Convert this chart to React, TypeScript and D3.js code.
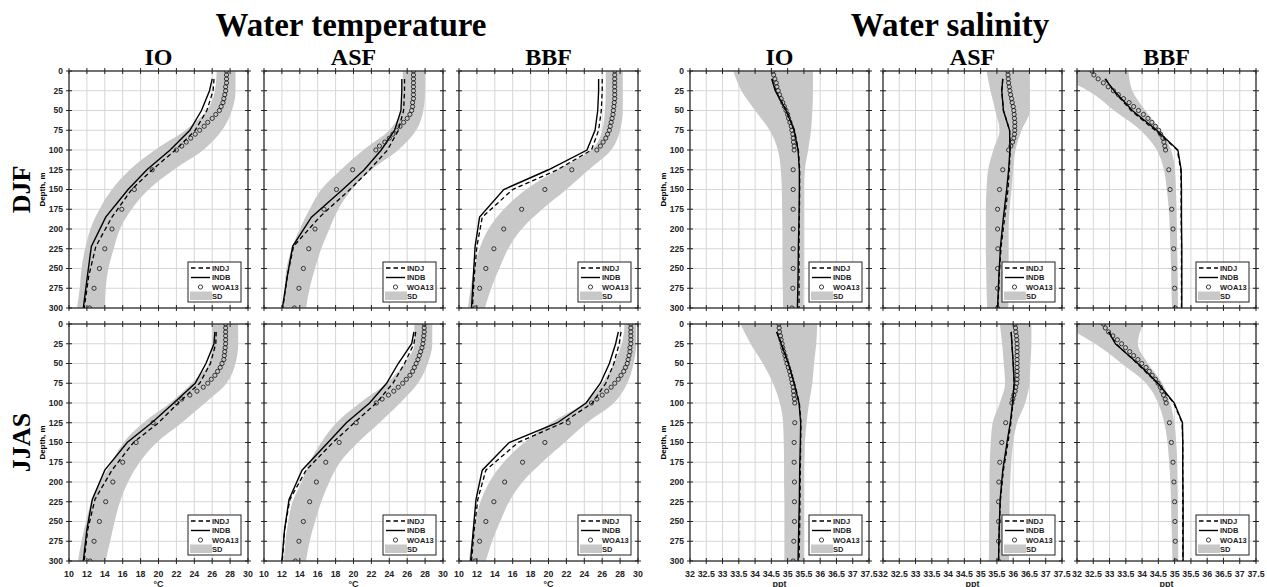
import * as d3 from 'd3';
import React from 'react';

// depth levels
const woaDepths = [0, 5, 10, 15, 20, 25, 30, 35, 40, 45, 50, 55, 60, 65, 70, 75, 80, 85, 90, 95, 100, 125, 150, 175, 200, 225, 250, 275, 300];
const modelDepths = [10, 25, 50, 75, 100, 125, 150, 185, 222, 260, 300];
const sdDepths = [0, 25, 50, 75, 100, 125, 150, 175, 200, 225, 250, 275, 300];
const depthTicks = [0, 25, 50, 75, 100, 125, 150, 175, 200, 225, 250, 275, 300];
const tempTicks = [10, 12, 14, 16, 18, 20, 22, 24, 26, 28, 30];
const salTicks = [32, 32.5, 33, 33.5, 34, 34.5, 35, 35.5, 36, 36.5, 37, 37.5];
const regions = ['IO', 'ASF', 'BBF'];
const seasons = ['DJF', 'JJAS'];

// temperature, DJF
const tIoDjfWoa = [27.6, 27.6, 27.6, 27.6, 27.5, 27.5, 27.4, 27.3, 27.2, 27.0, 26.8, 26.4, 26.0, 25.5, 25.1, 24.6, 24.1, 23.6, 23.1, 22.6, 22.0, 19.3, 17.3, 15.9, 14.8, 14.0, 13.4, 12.8, 12.3];
const tIoDjfIndb = [26.0, 25.7, 24.8, 23.5, 21.3, 18.7, 16.6, 14.1, 12.5, 12.05, 11.6];
const tIoDjfIndj = [26.2, 26.1, 25.4, 24.1, 21.9, 19.3, 17.0, 14.8, 13.0, 12.2, 11.7];
const tIoDjfSdLo = [26.5, 26.3, 25.4, 23.0, 19.6, 16.8, 14.8, 13.4, 12.4, 11.8, 11.4, 11.2, 10.9];
const tIoDjfSdHi = [28.6, 28.6, 28.2, 27.1, 25.0, 21.7, 18.9, 17.0, 15.7, 15.0, 14.4, 14.1, 14.0];

const tAsfDjfWoa = [26.7, 26.7, 26.7, 26.7, 26.7, 26.7, 26.7, 26.7, 26.6, 26.6, 26.5, 26.3, 26.0, 25.6, 25.2, 24.8, 24.4, 24.0, 23.5, 22.9, 22.5, 19.9, 18.1, 16.7, 15.7, 15.0, 14.4, 13.9, 13.4];
const tAsfDjfIndb = [25.4, 25.4, 25.3, 24.6, 23.1, 21.2, 18.8, 15.3, 13.2, 12.6, 12.05];
const tAsfDjfIndj = [25.7, 25.7, 25.6, 25.0, 23.8, 21.8, 19.6, 16.2, 13.3, 12.6, 12.1];
const tAsfDjfSdLo = [25.5, 25.5, 25.3, 24.0, 21.1, 18.6, 16.4, 15.1, 14.0, 13.1, 12.5, 12.3, 12.1];
const tAsfDjfSdHi = [28.0, 28.0, 27.8, 27.0, 25.0, 22.0, 19.8, 18.3, 17.3, 16.4, 15.7, 15.1, 14.7];

const tBbfDjfWoa = [27.4, 27.4, 27.4, 27.4, 27.4, 27.4, 27.4, 27.4, 27.35, 27.3, 27.25, 27.2, 27.1, 27.0, 26.9, 26.8, 26.6, 26.4, 26.1, 25.8, 25.4, 22.6, 19.6, 17.0, 15.0, 13.9, 13.0, 12.3, 11.8];
const tBbfDjfIndb = [25.6, 25.6, 25.5, 25.2, 24.3, 20.0, 15.0, 12.3, 11.8, 11.6, 11.4];
const tBbfDjfIndj = [26.0, 26.0, 25.9, 25.6, 24.8, 21.0, 16.0, 12.6, 12.0, 11.7, 11.5];
const tBbfDjfSdLo = [26.4, 26.4, 26.3, 26.0, 24.8, 21.0, 17.5, 15.0, 13.3, 12.3, 11.7, 11.3, 11.0];
const tBbfDjfSdHi = [28.3, 28.3, 28.3, 28.0, 27.0, 24.5, 22.0, 19.3, 17.0, 15.5, 14.5, 13.6, 12.9];

// temperature, JJAS
const tIoJjasWoa = [27.5, 27.5, 27.5, 27.5, 27.5, 27.5, 27.45, 27.4, 27.35, 27.3, 27.1, 26.9, 26.6, 26.3, 25.9, 25.5, 25.0, 24.3, 23.5, 22.6, 22.05, 19.4, 17.5, 16.0, 14.9, 14.1, 13.4, 12.8, 12.35];
const tIoJjasIndb = [26.3, 26.2, 25.3, 24.1, 21.7, 19.25, 16.5, 14.0, 12.6, 12.0, 11.6];
const tIoJjasIndj = [26.45, 26.4, 25.8, 24.6, 22.2, 20.0, 17.2, 14.8, 12.9, 12.1, 11.7];
const tIoJjasSdLo = [26.0, 26.0, 25.6, 23.7, 21.3, 18.3, 16.1, 14.8, 13.5, 12.5, 11.9, 11.4, 11.0];
const tIoJjasSdHi = [28.9, 28.9, 28.6, 27.6, 25.2, 22.6, 19.8, 17.9, 16.6, 15.7, 15.1, 14.6, 14.1];

const tAsfJjasWoa = [27.9, 27.9, 27.9, 27.85, 27.8, 27.75, 27.65, 27.5, 27.35, 27.2, 27.0, 26.8, 26.6, 26.3, 25.9, 25.5, 25.0, 24.5, 23.9, 23.2, 22.55, 20.3, 18.4, 16.9, 15.85, 15.1, 14.4, 13.9, 13.5];
const tAsfJjasIndb = [26.75, 26.5, 25.0, 23.7, 21.8, 19.2, 17.15, 14.25, 12.8, 12.3, 12.0];
const tAsfJjasIndj = [26.95, 26.75, 25.7, 24.4, 22.55, 20.1, 17.7, 14.7, 12.9, 12.3, 12.05];
const tAsfJjasSdLo = [26.8, 26.8, 25.7, 23.7, 20.7, 18.1, 16.4, 15.1, 14.2, 13.2, 12.7, 12.4, 12.2];
const tAsfJjasSdHi = [28.8, 28.8, 28.3, 27.2, 25.2, 22.9, 20.5, 18.5, 17.3, 16.4, 15.7, 15.1, 14.7];

const tBbfJjasWoa = [29.2, 29.2, 29.2, 29.2, 29.2, 29.2, 29.1, 29.1, 29.0, 28.9, 28.8, 28.6, 28.4, 28.1, 27.8, 27.4, 27.0, 26.5, 26.0, 25.4, 24.8, 22.2, 19.6, 17.1, 15.1, 13.9, 13.0, 12.3, 11.8];
const tBbfJjasIndb = [27.8, 27.5, 26.8, 25.8, 24.2, 21.0, 15.6, 12.6, 11.9, 11.6, 11.3];
const tBbfJjasIndj = [28.1, 27.9, 27.3, 26.4, 24.9, 21.6, 16.6, 13.0, 12.1, 11.7, 11.4];
const tBbfJjasSdLo = [28.5, 28.2, 27.3, 26.0, 24.0, 20.3, 17.3, 15.0, 13.4, 12.4, 11.8, 11.4, 11.1];
const tBbfJjasSdHi = [29.8, 29.8, 29.5, 28.8, 27.3, 24.3, 21.8, 19.3, 17.1, 15.6, 14.6, 13.7, 13.0];

// salinity, DJF
const sIoDjfWoa = [34.55, 34.57, 34.61, 34.65, 34.67, 34.71, 34.75, 34.8, 34.85, 34.9, 34.95, 35.0, 35.03, 35.07, 35.11, 35.13, 35.16, 35.17, 35.18, 35.2, 35.2, 35.17, 35.17, 35.17, 35.17, 35.17, 35.17, 35.16, 35.13];
const sIoDjfIndb = [34.51, 34.62, 34.95, 35.2, 35.32, 35.36, 35.36, 35.35, 35.33, 35.32, 35.3];
const sIoDjfIndj = [34.52, 34.63, 34.97, 35.21, 35.33, 35.37, 35.37, 35.36, 35.35, 35.35, 35.35];
const sIoDjfSdLo = [33.33, 33.58, 34.0, 34.45, 34.7, 34.79, 34.82, 34.83, 34.84, 34.84, 34.84, 34.85, 34.86];
const sIoDjfSdHi = [35.78, 35.78, 35.76, 35.72, 35.63, 35.53, 35.5, 35.5, 35.5, 35.5, 35.5, 35.49, 35.48];

const sAsfDjfWoa = [35.83, 35.84, 35.85, 35.86, 35.88, 35.9, 35.92, 35.95, 35.97, 36.0, 36.02, 36.03, 36.04, 36.05, 36.05, 36.05, 36.04, 36.02, 35.98, 35.93, 35.86, 35.68, 35.58, 35.52, 35.52, 35.53, 35.52, 35.52, 35.52];
const sAsfDjfIndb = [35.68, 35.65, 35.7, 35.89, 35.9, 35.86, 35.8, 35.7, 35.61, 35.56, 35.52];
const sAsfDjfIndj = [35.68, 35.65, 35.7, 35.89, 35.91, 35.88, 35.84, 35.74, 35.63, 35.57, 35.53];
const sAsfDjfSdLo = [35.18, 35.3, 35.45, 35.58, 35.39, 35.23, 35.18, 35.16, 35.16, 35.16, 35.17, 35.18, 35.2];
const sAsfDjfSdHi = [36.51, 36.51, 36.51, 36.26, 36.07, 36.0, 35.95, 35.89, 35.86, 35.86, 35.86, 35.86, 35.85];

const sBbfDjfWoa = [32.46, 32.52, 32.65, 32.81, 32.96, 33.12, 33.27, 33.43, 33.6, 33.74, 33.89, 34.04, 34.18, 34.3, 34.41, 34.51, 34.57, 34.64, 34.67, 34.7, 34.72, 34.82, 34.86, 34.91, 34.95, 34.97, 34.99, 35.0, 35.02];
const sBbfDjfIndb = [32.86, 33.14, 33.7, 34.45, 35.1, 35.2, 35.21, 35.21, 35.22, 35.22, 35.22];
const sBbfDjfIndj = [32.88, 33.12, 33.66, 34.4, 35.08, 35.19, 35.2, 35.2, 35.21, 35.21, 35.21];
const sBbfDjfSdLo = [31.0, 32.34, 33.14, 33.95, 34.45, 34.67, 34.76, 34.82, 34.85, 34.87, 34.89, 34.9, 34.92];
const sBbfDjfSdHi = [33.58, 33.7, 34.1, 34.57, 34.89, 35.01, 35.04, 35.06, 35.07, 35.08, 35.09, 35.1, 35.1];

// salinity, JJAS
const sIoJjasWoa = [34.73, 34.74, 34.75, 34.78, 34.8, 34.83, 34.85, 34.88, 34.92, 34.95, 34.98, 35.02, 35.06, 35.09, 35.12, 35.14, 35.17, 35.18, 35.19, 35.21, 35.22, 35.22, 35.2, 35.2, 35.21, 35.21, 35.21, 35.19, 35.17];
const sIoJjasIndb = [34.66, 34.8, 35.02, 35.2, 35.35, 35.4, 35.39, 35.37, 35.36, 35.34, 35.32];
const sIoJjasIndj = [34.67, 34.81, 35.03, 35.21, 35.36, 35.41, 35.4, 35.39, 35.38, 35.37, 35.35];
const sIoJjasSdLo = [33.55, 33.86, 34.24, 34.55, 34.76, 34.86, 34.88, 34.89, 34.89, 34.9, 34.9, 34.9, 34.9];
const sIoJjasSdHi = [35.91, 35.88, 35.81, 35.76, 35.66, 35.58, 35.53, 35.51, 35.5, 35.5, 35.5, 35.5, 35.5];

const sAsfJjasWoa = [36.06, 36.07, 36.08, 36.1, 36.11, 36.12, 36.12, 36.12, 36.12, 36.12, 36.12, 36.12, 36.12, 36.12, 36.12, 36.11, 36.08, 36.06, 36.02, 35.99, 35.96, 35.77, 35.65, 35.59, 35.56, 35.55, 35.55, 35.55, 35.55];
const sAsfJjasIndb = [35.94, 35.96, 36.0, 36.03, 35.98, 35.91, 35.81, 35.68, 35.6, 35.57, 35.55];
const sAsfJjasIndj = [35.94, 35.96, 36.0, 36.03, 35.99, 35.93, 35.84, 35.7, 35.61, 35.57, 35.55];
const sAsfJjasSdLo = [35.59, 35.66, 35.71, 35.75, 35.59, 35.37, 35.31, 35.28, 35.27, 35.27, 35.26, 35.26, 35.25];
const sAsfJjasSdHi = [36.56, 36.56, 36.53, 36.5, 36.37, 36.12, 36.0, 35.94, 35.91, 35.89, 35.89, 35.88, 35.87];

const sBbfJjasWoa = [32.81, 32.87, 32.97, 33.1, 33.24, 33.37, 33.49, 33.62, 33.74, 33.87, 33.99, 34.12, 34.22, 34.31, 34.41, 34.49, 34.56, 34.61, 34.66, 34.71, 34.74, 34.84, 34.9, 34.95, 34.98, 35.0, 35.01, 35.02, 35.03];
const sBbfJjasIndb = [32.97, 33.18, 33.87, 34.49, 34.99, 35.24, 35.25, 35.25, 35.26, 35.26, 35.26];
const sBbfJjasIndj = [32.98, 33.2, 33.85, 34.47, 34.97, 35.23, 35.25, 35.25, 35.25, 35.25, 35.25];
const sBbfJjasSdLo = [31.5, 32.56, 33.37, 34.12, 34.49, 34.68, 34.78, 34.83, 34.87, 34.89, 34.9, 34.92, 34.93];
const sBbfJjasSdHi = [34.03, 33.87, 34.18, 34.62, 34.86, 34.99, 35.05, 35.08, 35.09, 35.1, 35.1, 35.11, 35.11];

interface Profile {
  woa: number[];
  indb: number[];
  indj: number[];
  sdLo: number[];
  sdHi: number[];
}

const tempData: Profile[][] = [
  [
    { woa: tIoDjfWoa, indb: tIoDjfIndb, indj: tIoDjfIndj, sdLo: tIoDjfSdLo, sdHi: tIoDjfSdHi },
    { woa: tAsfDjfWoa, indb: tAsfDjfIndb, indj: tAsfDjfIndj, sdLo: tAsfDjfSdLo, sdHi: tAsfDjfSdHi },
    { woa: tBbfDjfWoa, indb: tBbfDjfIndb, indj: tBbfDjfIndj, sdLo: tBbfDjfSdLo, sdHi: tBbfDjfSdHi },
  ],
  [
    { woa: tIoJjasWoa, indb: tIoJjasIndb, indj: tIoJjasIndj, sdLo: tIoJjasSdLo, sdHi: tIoJjasSdHi },
    { woa: tAsfJjasWoa, indb: tAsfJjasIndb, indj: tAsfJjasIndj, sdLo: tAsfJjasSdLo, sdHi: tAsfJjasSdHi },
    { woa: tBbfJjasWoa, indb: tBbfJjasIndb, indj: tBbfJjasIndj, sdLo: tBbfJjasSdLo, sdHi: tBbfJjasSdHi },
  ],
];

const salData: Profile[][] = [
  [
    { woa: sIoDjfWoa, indb: sIoDjfIndb, indj: sIoDjfIndj, sdLo: sIoDjfSdLo, sdHi: sIoDjfSdHi },
    { woa: sAsfDjfWoa, indb: sAsfDjfIndb, indj: sAsfDjfIndj, sdLo: sAsfDjfSdLo, sdHi: sAsfDjfSdHi },
    { woa: sBbfDjfWoa, indb: sBbfDjfIndb, indj: sBbfDjfIndj, sdLo: sBbfDjfSdLo, sdHi: sBbfDjfSdHi },
  ],
  [
    { woa: sIoJjasWoa, indb: sIoJjasIndb, indj: sIoJjasIndj, sdLo: sIoJjasSdLo, sdHi: sIoJjasSdHi },
    { woa: sAsfJjasWoa, indb: sAsfJjasIndb, indj: sAsfJjasIndj, sdLo: sAsfJjasSdLo, sdHi: sAsfJjasSdHi },
    { woa: sBbfJjasWoa, indb: sBbfJjasIndb, indj: sBbfJjasIndj, sdLo: sBbfJjasSdLo, sdHi: sBbfJjasSdHi },
  ],
];

// layout
const W = 1267;
const H = 587;
const panelW = 179;
const panelH = 237;
const rowTops = [71, 324];
const tempLefts = [69, 264, 459];
const salLefts = [690, 883, 1077];
const sans = 'Liberation Sans, Arial, sans-serif';
const serif = 'Liberation Serif, Times New Roman, serif';
const gridColor = '#d6d6d6';
const bandColor = '#c8c8c8';

interface PanelProps {
  id: string;
  left: number;
  top: number;
  domain: [number, number];
  ticks: number[];
  data: Profile;
  yLabels: boolean;
  xLabels: boolean;
  unit: string;
}

const Panel = ({ id, left, top, domain, ticks, data, yLabels, xLabels, unit }: PanelProps) => {
  const x = d3.scaleLinear().domain(domain).range([left, left + panelW]);
  const y = d3.scaleLinear().domain([0, 300]).range([top, top + panelH]);
  const right = left + panelW;
  const bottom = top + panelH;

  const band = d3
    .area<number>()
    .y((d) => y(d))
    .x0((d, i) => x(data.sdLo[i]))
    .x1((d, i) => x(data.sdHi[i]))
    .curve(d3.curveMonotoneY);
  const line = (vals: number[]) =>
    d3
      .line<number>()
      .x((d, i) => x(vals[i]))
      .y((d) => y(d))(modelDepths) || '';

  const lx = right - 60;
  const ly = bottom - 46;

  return (
    <g>
      <defs>
        <clipPath id={id}>
          <rect x={left} y={top} width={panelW} height={panelH} />
        </clipPath>
      </defs>
      {/* grid */}
      {ticks.map((t) => (
        <line key={'gx' + t} x1={x(t)} x2={x(t)} y1={top} y2={bottom} stroke={gridColor} strokeWidth={1} />
      ))}
      {depthTicks.map((t) => (
        <line key={'gy' + t} x1={left} x2={right} y1={y(t)} y2={y(t)} stroke={gridColor} strokeWidth={1} />
      ))}
      <g clipPath={`url(#${id})`}>
        <path d={band(sdDepths) || ''} fill={bandColor} />
        <path d={line(data.indj)} fill="none" stroke="#000" strokeWidth={1.3} strokeDasharray="4.5,3" />
        <path d={line(data.indb)} fill="none" stroke="#000" strokeWidth={1.4} />
        {woaDepths.map((d, i) => (
          <circle key={'w' + d} cx={x(data.woa[i])} cy={y(d)} r={2.1} fill="none" stroke="#111" strokeWidth={0.8} />
        ))}
      </g>
      {/* frame and ticks */}
      <rect x={left} y={top} width={panelW} height={panelH} fill="none" stroke="#222" strokeWidth={1.2} />
      {ticks.map((t) => (
        <g key={'tx' + t}>
          <line x1={x(t)} x2={x(t)} y1={top - 3} y2={top + 3} stroke="#222" />
          <line x1={x(t)} x2={x(t)} y1={bottom - 3} y2={bottom + 3} stroke="#222" />
        </g>
      ))}
      {depthTicks.map((t) => (
        <g key={'ty' + t}>
          <line x1={left - 3} x2={left + 3} y1={y(t)} y2={y(t)} stroke="#222" />
          <line x1={right - 3} x2={right + 3} y1={y(t)} y2={y(t)} stroke="#222" />
        </g>
      ))}
      {yLabels &&
        depthTicks.map((t) => (
          <text key={'ly' + t} x={left - 6} y={y(t)} dy="0.35em" textAnchor="end" fontFamily={sans} fontWeight="bold" fontSize={8.5} fill="#222">
            {t}
          </text>
        ))}
      {xLabels &&
        ticks.map((t) => (
          <text key={'lx' + t} x={x(t)} y={bottom + 16} textAnchor="middle" fontFamily={sans} fontWeight="bold" fontSize={8.8} fill="#222">
            {t}
          </text>
        ))}
      {xLabels && (
        <text x={(left + right) / 2} y={bottom + 25.5} textAnchor="middle" fontFamily={sans} fontWeight="bold" fontSize={9} fill="#222">
          {unit}
        </text>
      )}
      {/* legend */}
      <g>
        <rect x={lx} y={ly} width={53} height={40} fill="#fff" stroke="#222" strokeWidth={1} />
        <line x1={lx + 3} x2={lx + 22} y1={ly + 6} y2={ly + 6} stroke="#000" strokeWidth={1.3} strokeDasharray="4.5,3" />
        <line x1={lx + 3} x2={lx + 22} y1={ly + 15.5} y2={ly + 15.5} stroke="#000" strokeWidth={1.4} />
        <circle cx={lx + 12.5} cy={ly + 25} r={2.1} fill="none" stroke="#111" strokeWidth={0.8} />
        <rect x={lx + 2} y={ly + 29.5} width={22} height={8.5} fill={bandColor} />
        {['INDJ', 'INDB', 'WOA13', 'SD'].map((s, i) => (
          <text key={s} x={lx + 24} y={ly + 6 + i * 9.6} dy="0.35em" fontFamily={sans} fontWeight="bold" fontSize={7.5} fill="#222">
            {s}
          </text>
        ))}
      </g>
    </g>
  );
};

const App = () => {
  return (
    <svg width={W} height={H} style={{ position: 'absolute', left: 0, top: 0, background: '#fff' }}>
      <rect width={W} height={H} fill="#fff" />
      <text x={351} y={36} textAnchor="middle" fontFamily={serif} fontWeight="bold" fontSize={33}>
        Water temperature
      </text>
      <text x={950} y={36} textAnchor="middle" fontFamily={serif} fontWeight="bold" fontSize={33}>
        Water salinity
      </text>
      {regions.map((r, i) => (
        <g key={r}>
          <text x={tempLefts[i] + panelW / 2} y={65} textAnchor="middle" fontFamily={serif} fontWeight="bold" fontSize={24}>
            {r}
          </text>
          <text x={salLefts[i] + panelW / 2} y={65} textAnchor="middle" fontFamily={serif} fontWeight="bold" fontSize={24}>
            {r}
          </text>
        </g>
      ))}
      {seasons.map((s, ri) => {
        const cy = rowTops[ri] + panelH / 2;
        return (
          <g key={s}>
            <text transform={`translate(30,${cy}) rotate(-90)`} textAnchor="middle" fontFamily={serif} fontWeight="bold" fontSize={26}>
              {s}
            </text>
            <text transform={`translate(45,${cy}) rotate(-90)`} textAnchor="middle" fontFamily={sans} fontWeight="bold" fontSize={8}>
              Depth, m
            </text>
            <text transform={`translate(666,${cy}) rotate(-90)`} textAnchor="middle" fontFamily={sans} fontWeight="bold" fontSize={8}>
              Depth, m
            </text>
          </g>
        );
      })}
      {seasons.map((s, ri) =>
        regions.map((r, ci) => (
          <g key={s + r}>
            <Panel
              id={`t-${s}-${r}`}
              left={tempLefts[ci]}
              top={rowTops[ri]}
              domain={[10, 30]}
              ticks={tempTicks}
              data={tempData[ri][ci]}
              yLabels={ci === 0}
              xLabels={ri === 1}
              unit="°C"
            />
            <Panel
              id={`s-${s}-${r}`}
              left={salLefts[ci]}
              top={rowTops[ri]}
              domain={[32, 37.5]}
              ticks={salTicks}
              data={salData[ri][ci]}
              yLabels={ci === 0}
              xLabels={ri === 1}
              unit="ppt"
            />
          </g>
        ))
      )}
    </svg>
  );
};

export default App;
